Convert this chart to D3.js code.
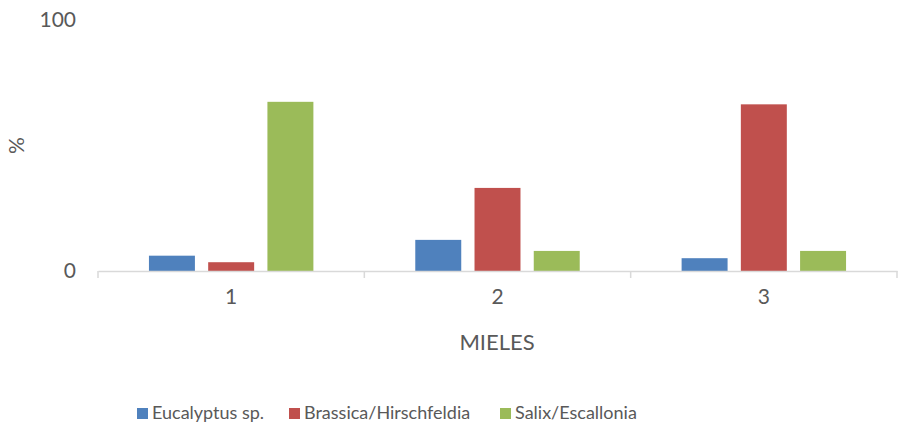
<!DOCTYPE html>
<html><head><meta charset="utf-8">
<script src="https://cdn.jsdelivr.net/npm/d3@7"></script>
<style>body{margin:0;background:#fff}svg{display:block}text{font-family:Lato,"Open Sans",sans-serif;fill:#595959}</style>
</head><body><svg id="c" width="903" height="428"></svg>
<script>
const categories = ["1","2","3"];
const seriesNames = ["Eucalyptus sp.","Brassica/Hirschfeldia","Salix/Escallonia"];
const eucalyptus = [6.1, 12.4, 5.1];
const brassica = [3.5, 33.1, 66.4];
const salix = [67.4, 8.0, 8.0];
const yTicks = [0, 100];
const colors = ["#4F81BD","#C0504D","#9BBB59"];
const seriesValues = [eucalyptus, brassica, salix];

const svg = d3.select("#c");
const mLeft = 98, mRight = 897, mTop = 20, mBottom = 271;
const x0 = d3.scaleBand().domain(categories).range([mLeft, mRight]).padding(0);
const x1 = d3.scaleBand().domain(seriesNames).range([0, x0.bandwidth()]).paddingInner(0.224).paddingOuter(0.86);
const y = d3.scaleLinear().domain([0, 100]).range([mBottom, mTop]);

// bars
categories.forEach((c, i) => {
  svg.append("g").selectAll("rect").data(seriesNames).join("rect")
    .attr("x", s => x0(c) + x1(s))
    .attr("width", x1.bandwidth())
    .attr("y", (s, j) => y(seriesValues[j][i]))
    .attr("height", (s, j) => y(0) - y(seriesValues[j][i]))
    .attr("fill", (s, j) => colors[j]);
});

// x axis
const xAxis = svg.append("g").attr("transform", `translate(0,${mBottom})`)
  .call(d3.axisBottom(x0).tickSize(0).tickPadding(18));
xAxis.select(".domain").attr("stroke", "#D9D9D9").attr("stroke-width", 1.5);
xAxis.selectAll("text").style("font-size", "21px").attr("fill", "#595959");
const bounds = categories.map(c => x0(c)).concat([x0.range()[1]]);
svg.append("g").selectAll("line").data(bounds).join("line")
  .attr("x1", d => d).attr("x2", d => d)
  .attr("y1", mBottom).attr("y2", mBottom + 7)
  .attr("stroke", "#D9D9D9").attr("stroke-width", 1.5);

// y axis labels
const yAxis = svg.append("g").attr("transform", `translate(${mLeft},0)`)
  .call(d3.axisLeft(y).tickValues(yTicks).tickSize(0).tickPadding(22));
yAxis.select(".domain").remove();
yAxis.selectAll("text").style("font-size", "21px").attr("fill", "#595959");

// axis titles
svg.append("text").attr("x", 497).attr("y", 350).attr("text-anchor", "middle")
  .style("font-size", "22px").text("MIELES");
svg.append("text").attr("transform", `translate(24,${(mTop+mBottom)/2}) rotate(-90)`)
  .attr("text-anchor", "middle").style("font-size", "21px").text("%");

// legend
const legX = [137, 289, 500];
const leg = svg.append("g").selectAll("g").data(seriesNames).join("g")
  .attr("transform", (d, i) => `translate(${legX[i]},408)`);
leg.append("rect").attr("width", 11).attr("height", 11).attr("fill", (d, i) => colors[i]);
leg.append("text").attr("x", 15).attr("y", 11).style("font-size", "18px").text(d => d);
</script></body></html>
